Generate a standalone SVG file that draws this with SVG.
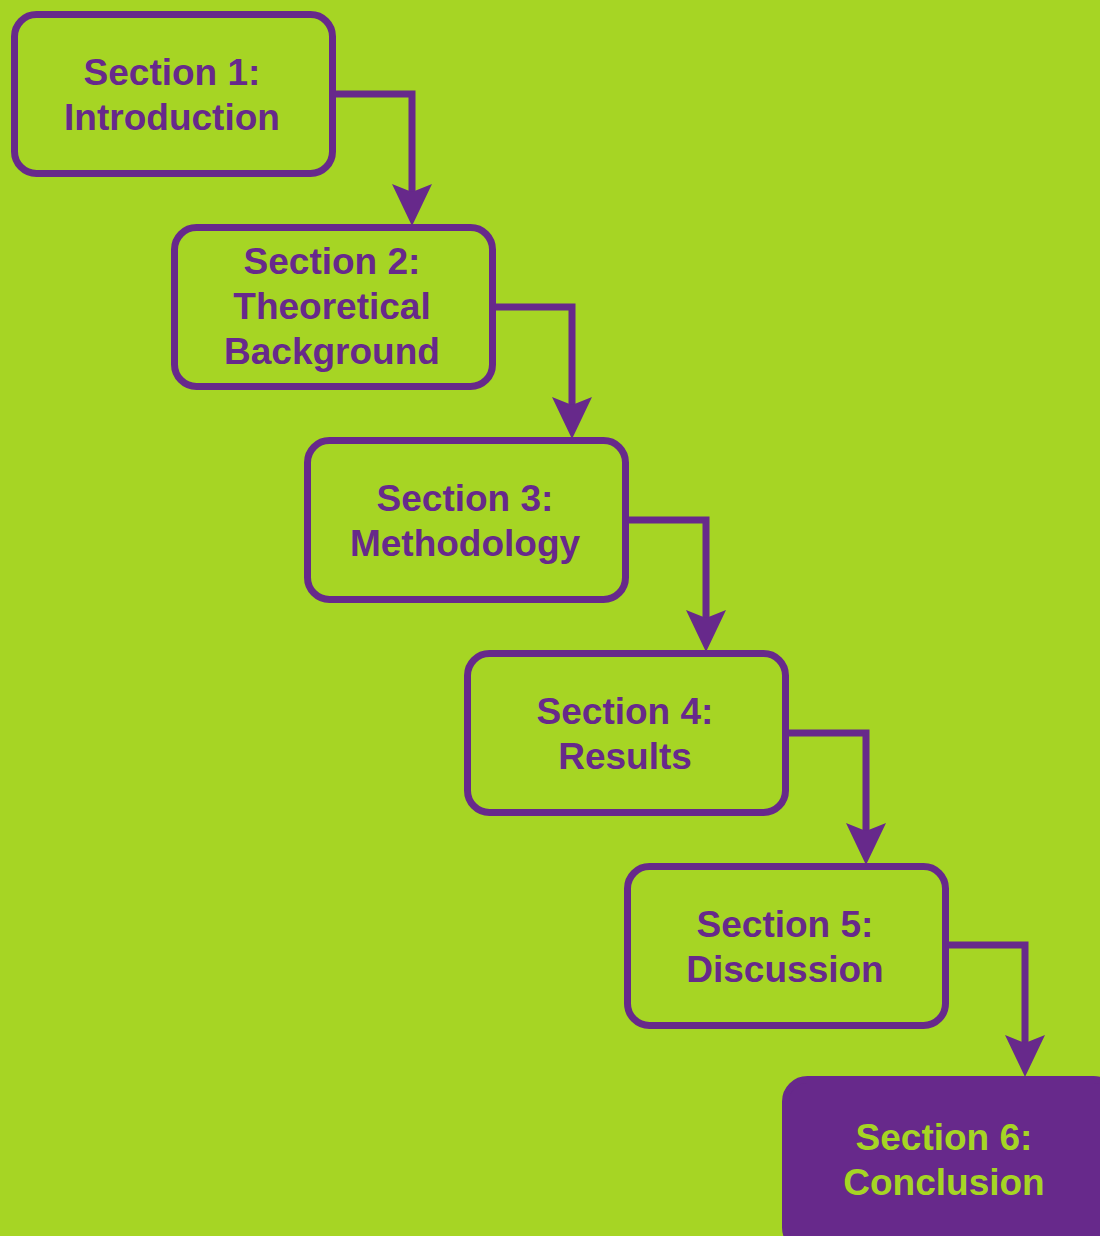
<svg xmlns="http://www.w3.org/2000/svg" width="1100" height="1236" viewBox="0 0 1100 1236">
<style>
.box{fill:none;stroke:#67298b;stroke-width:7}
.boxf{fill:#67298b;stroke:#67298b;stroke-width:7}
.t{font-family:"Liberation Sans",Arial,sans-serif;font-weight:bold;font-size:37px;fill:#67298b;text-anchor:middle}
.tw{fill:#a6d524}
.c{fill:none;stroke:#67298b;stroke-width:7}
</style>
<defs>
<marker id="ah" markerUnits="userSpaceOnUse" markerWidth="44" markerHeight="44" refX="8" refY="20" orient="auto" viewBox="0 0 44 40">
<path d="M0,0 L42,20 L0,40 L8,20 Z" fill="#67298b"/>
</marker>
</defs>
<rect width="1100" height="1236" fill="#a6d524"/>
<g id="connectors">
<path class="c" d="M336,94 H412 V192" marker-end="url(#ah)"/>
<path class="c" d="M496,307 H572 V405" marker-end="url(#ah)"/>
<path class="c" d="M628,520 H706 V618" marker-end="url(#ah)"/>
<path class="c" d="M789,733 H866 V831" marker-end="url(#ah)"/>
<path class="c" d="M948,945 H1025 V1043" marker-end="url(#ah)"/>
</g>
<g id="n1">
<rect class="box" x="14.5" y="14.5" width="318" height="159" rx="22"/>
<text class="t" x="172" y="85">Section 1:</text>
<text class="t" x="172" y="130">Introduction</text>
</g>
<g id="n2">
<rect class="box" x="174.5" y="227.5" width="318" height="159" rx="22"/>
<text class="t" x="332" y="274">Section 2:</text>
<text class="t" x="332" y="319">Theoretical</text>
<text class="t" x="332" y="364">Background</text>
</g>
<g id="n3">
<rect class="box" x="307.5" y="440.5" width="318" height="159" rx="22"/>
<text class="t" x="465" y="511">Section 3:</text>
<text class="t" x="465" y="556">Methodology</text>
</g>
<g id="n4">
<rect class="box" x="467.5" y="653.5" width="318" height="159" rx="22"/>
<text class="t" x="625" y="724">Section 4:</text>
<text class="t" x="625" y="769">Results</text>
</g>
<g id="n5">
<rect class="box" x="627.5" y="866.5" width="318" height="159" rx="22"/>
<text class="t" x="785" y="937">Section 5:</text>
<text class="t" x="785" y="982">Discussion</text>
</g>
<g id="n6">
<rect class="boxf" x="785.5" y="1079.5" width="330" height="170" rx="22"/>
<text class="t tw" x="944" y="1150">Section 6:</text>
<text class="t tw" x="944" y="1195">Conclusion</text>
</g>
</svg>
